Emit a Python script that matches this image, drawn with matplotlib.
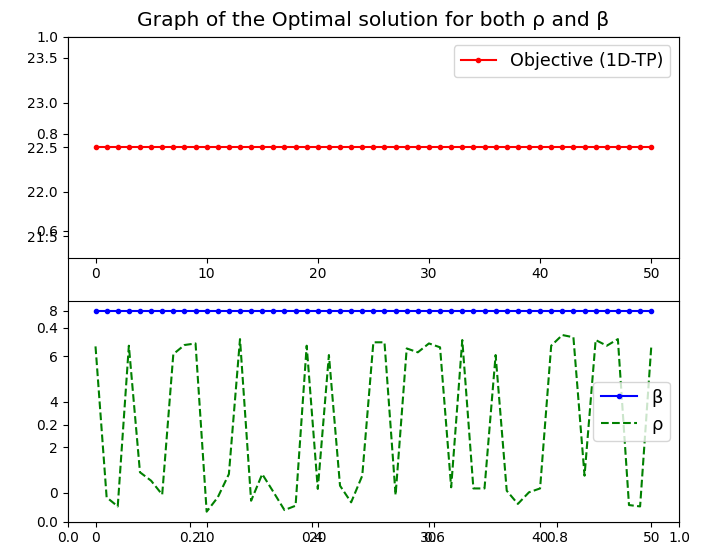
import numpy as np
import matplotlib
matplotlib.use('Agg')
import matplotlib.pyplot as plt

# iterations 0..50
iterations = np.arange(51)
objective = [22.5] * 51
beta = [8] * 51
rho = [6.44, -0.19, -0.59, 6.47, 0.91, 0.54, -0.07, 6.10, 6.50, 6.57,
       -0.82, -0.19, 0.83, 6.76, -0.34, 0.83, 0.05, -0.75, -0.56, 6.47,
       0.18, 6.06, 0.32, -0.41, 0.76, 6.62, 6.62, -0.09, 6.35, 6.18,
       6.57, 6.40, 0.25, 6.72, 0.20, 0.20, 6.06, 0.10, -0.48, 0.03,
       0.20, 6.47, 6.94, 6.84, 0.76, 6.72, 6.47, 6.76, -0.53, -0.59,
       6.40]
title = 'Graph of the Optimal solution for both ρ and β'

fig = plt.figure(figsize=(7.07, 5.52), dpi=100)
fig.subplots_adjust(left=0.0958, right=0.9604, bottom=0.0549, top=0.9335, hspace=0.196)

# background axes carrying the title
ax0 = fig.add_subplot(111)
ax0.set_title(title, fontsize=14.6, pad=8)

ax1 = fig.add_subplot(211)
ax1.plot(iterations, objective, 'r.-', label='Objective (1D-TP)')
ax1.legend(loc='upper right', fontsize=12.6)

ax2 = fig.add_subplot(212)
ax2.plot(iterations, beta, 'b.-', label='β')
ax2.plot(iterations, rho, 'g--', label='ρ')
ax2.legend(loc='center right', fontsize=13)

plt.savefig('out.png')
